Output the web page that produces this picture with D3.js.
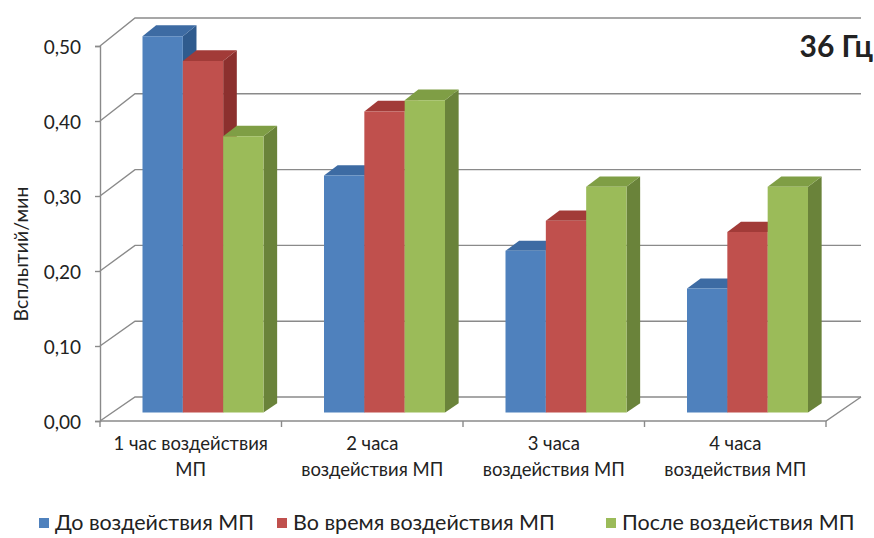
<!DOCTYPE html>
<html>
<head>
<meta charset="utf-8">
<script src="https://cdn.jsdelivr.net/npm/d3@7"></script>
<style>
  body { margin: 0; background: #fff; }
  svg { display: block; }
  text { font-family: Lato, "Open Sans", sans-serif; fill: #222; }
</style>
</head>
<body>
<svg id="chart" width="874" height="538"></svg>
<script>
// Categories (two-line labels), series and values
const categories = ["1 час воздействия МП", "2 часа воздействия МП", "3 часа воздействия МП", "4 часа воздействия МП"];
const categoryLines = [["1 час воздействия", "МП"], ["2 часа", "воздействия МП"], ["3 часа", "воздействия МП"], ["4 часа", "воздействия МП"]];
const seriesNames = ["До воздействия МП", "Во время воздействия МП", "После воздействия МП"];
const valuesBefore = [0.50, 0.315, 0.215, 0.165];
const valuesDuring = [0.467, 0.40, 0.255, 0.24];
const valuesAfter = [0.367, 0.415, 0.30, 0.30];
const yTicks = [0, 0.1, 0.2, 0.3, 0.4, 0.5];
const yTickLabels = ["0,00", "0,10", "0,20", "0,30", "0,40", "0,50"];
const titleText = "36 Гц";
const yTitle = "Всплытий/мин";

const seriesValues = [valuesBefore, valuesDuring, valuesAfter];
const faceColors = [
  { front: "#4f81bd", top: "#3d6ba3", side: "#2f5b8e" },
  { front: "#c0504d", top: "#a23b38", side: "#8c302e" },
  { front: "#9bbb59", top: "#7f9e45", side: "#6a833a" }
];

const svg = d3.select("#chart");

// Front plane and back wall of the 3D box
const xFront = d3.scaleBand().domain(categories).range([100, 826]).paddingInner(0).paddingOuter(0);
const yFront = d3.scaleLinear().domain([0, 0.5]).range([421, 46]);
const yBack = d3.scaleLinear().domain([0, 0.5]).range([397, 18]);
const depthDx = 35;           // horizontal shift from front plane to back wall
const zNear = 0.35, zFar = 0.74; // depth span of each column

function px(x, z) { return x + depthDx * z; }
function py(v, z) { return yFront(v) * (1 - z) + yBack(v) * z; }

const xSeries = d3.scaleBand().domain(d3.range(seriesNames.length))
  .range([0, xFront.bandwidth()]).paddingInner(0).paddingOuter(0.75);

const gridColor = "#8a8a8a";

// Gridlines: side wall diagonal then back wall horizontal
const grid = svg.append("g").attr("fill", "none").attr("stroke", gridColor).attr("stroke-width", 1.4);
yTicks.forEach(t => {
  const x0 = xFront.range()[0], x1 = xFront.range()[1];
  grid.append("path").attr("d", d3.line()([
    [x0, yFront(t)], [px(x0, 1), yBack(t)], [px(x1, 1), yBack(t)]
  ]));
});

// Floor front edge (category axis) and right edge
const r = xFront.range();
grid.append("path").attr("d", d3.line()([[r[0], yFront(0)], [r[1], yFront(0)], [px(r[1], 1), yBack(0)]]));

// Category ticks
const catEdges = categories.map(c => xFront(c)).concat([r[1]]);
grid.selectAll("line.ctick").data(catEdges).join("line")
  .attr("x1", d => d).attr("x2", d => d)
  .attr("y1", yFront(0)).attr("y2", yFront(0) + 6);

// Value axis
const yAxisG = svg.append("g").attr("transform", `translate(${r[0]},0)`);
yAxisG.call(d3.axisLeft(yFront).tickValues(yTicks).tickSize(5).tickPadding(14)
  .tickFormat((d, i) => yTickLabels[i]));
yAxisG.select(".domain").attr("stroke", gridColor).attr("stroke-width", 1.4);
yAxisG.selectAll(".tick line").attr("stroke", gridColor).attr("stroke-width", 1.4);
yAxisG.selectAll(".tick text").attr("font-size", 19).attr("font-family", "Lato, 'Open Sans', sans-serif")
  .attr("fill", "#222").attr("dy", "0.4em");

// Columns, painted left to right so the right neighbour hides side faces
const bars = svg.append("g");
categories.forEach((cat, ci) => {
  seriesNames.forEach((s, si) => {
    const v = seriesValues[si][ci];
    const xl = xFront(cat) + xSeries(si);
    const xr = xl + xSeries.bandwidth();
    const c = faceColors[si];
    const g = bars.append("g");
    // right side face
    g.append("path").attr("fill", c.side).attr("d", d3.line()([
      [px(xr, zNear), py(0, zNear)], [px(xr, zFar), py(0, zFar)],
      [px(xr, zFar), py(v, zFar)], [px(xr, zNear), py(v, zNear)]
    ]) + "Z");
    // top face
    g.append("path").attr("fill", c.top).attr("d", d3.line()([
      [px(xl, zNear), py(v, zNear)], [px(xr, zNear), py(v, zNear)],
      [px(xr, zFar), py(v, zFar)], [px(xl, zFar), py(v, zFar)]
    ]) + "Z");
    // front face
    g.append("path").attr("fill", c.front).attr("d", d3.line()([
      [px(xl, zNear), py(0, zNear)], [px(xr, zNear), py(0, zNear)],
      [px(xr, zNear), py(v, zNear)], [px(xl, zNear), py(v, zNear)]
    ]) + "Z");
  });
});

// Category labels
const catLabels = svg.append("g").attr("text-anchor", "middle").attr("font-size", 18.5);
categories.forEach((cat, ci) => {
  const cx = xFront(cat) + xFront.bandwidth() / 2;
  categoryLines[ci].forEach((line, li) => {
    catLabels.append("text").attr("x", cx).attr("y", 444 + li * 26).attr("dy", "0.35em").text(line);
  });
});

// Value axis title
svg.append("text")
  .attr("transform", "translate(21,254) rotate(-90)")
  .attr("text-anchor", "middle").attr("dy", "0.35em")
  .attr("font-size", 19.5).text(yTitle);

// Chart title
svg.append("text").attr("x", 873).attr("y", 46).attr("dy", "0.35em")
  .attr("text-anchor", "end").attr("font-size", 30).attr("font-weight", "bold")
  .attr("font-family", "'Open Sans', Lato, sans-serif").text(titleText);

// Legend
const legendX = [39, 277, 606];
const legend = svg.append("g").attr("font-size", 21.5);
seriesNames.forEach((s, si) => {
  legend.append("rect").attr("x", legendX[si]).attr("y", 518).attr("width", 10).attr("height", 10)
    .attr("fill", faceColors[si].front);
  legend.append("text").attr("x", legendX[si] + 16).attr("y", 522).attr("dy", "0.35em").text(s);
});
</script>
</body>
</html>
